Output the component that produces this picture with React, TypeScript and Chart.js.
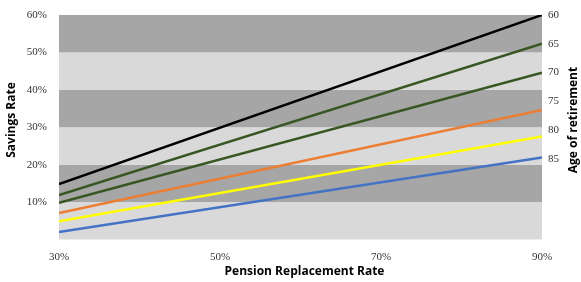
import React, { useEffect, useRef } from "react";
import { Chart, registerables } from "chart.js";

Chart.register(...registerables);

const replacementRates = [30, 90];
const retirementAgeTicks = [60, 65, 70, 75, 80, 85];
const age60 = [14.8, 60];
const age65 = [11.9, 52.3];
const age70 = [9.8, 44.6];
const age75 = [7.1, 34.6];
const age80 = [4.9, 27.5];
const age85 = [2.0, 21.9];

const seriesList = [
  { label: "60", values: age60, color: "#000000" },
  { label: "65", values: age65, color: "#375623" },
  { label: "70", values: age70, color: "#375623" },
  { label: "75", values: age75, color: "#ED7D31" },
  { label: "80", values: age80, color: "#FFFF00" },
  { label: "85", values: age85, color: "#4472C4" },
];

const bandPlugin = {
  id: "bands",
  beforeDatasetsDraw(chart: any) {
    const { ctx, chartArea, scales } = chart;
    const y = scales.y;
    ctx.save();
    for (let v = 0; v < 60; v += 10) {
      const top = y.getPixelForValue(v + 10);
      const bottom = y.getPixelForValue(v);
      ctx.fillStyle = (v / 10) % 2 === 1 ? "#a6a6a6" : "#d9d9d9";
      ctx.fillRect(chartArea.left, top, chartArea.right - chartArea.left, bottom - top);
    }
    ctx.restore();
  },
};

const titlePlugin = {
  id: "titles",
  afterDraw(chart: any) {
    const { ctx } = chart;
    ctx.save();
    ctx.fillStyle = "#000000";
    ctx.font = "bold 12px 'Open Sans'";
    ctx.textAlign = "center";
    ctx.textBaseline = "middle";
    ctx.save();
    ctx.translate(12, 120);
    ctx.rotate(-Math.PI / 2);
    ctx.fillText("Savings Rate", 0, 0);
    ctx.restore();
    ctx.save();
    ctx.translate(574, 120);
    ctx.rotate(-Math.PI / 2);
    ctx.fillText("Age of retirement", 0, 0);
    ctx.restore();
    const ca = chart.chartArea;
    ctx.fillText("Pension Replacement Rate", (ca.left + ca.right) / 2 + 4, 272);
    ctx.restore();
  },
};

const noPad = (s: any) => {
  s.paddingTop = 0;
  s.paddingBottom = 0;
  s.paddingLeft = 0;
  s.paddingRight = 0;
};

export default function App() {
  const ref = useRef<HTMLCanvasElement>(null);
  useEffect(() => {
    if (!ref.current) return;
    const tickFont = { family: "'Liberation Serif'", size: 11 };
    const chart = new Chart(ref.current, {
      type: "line",
      data: {
        datasets: seriesList.map((s) => ({
          label: s.label,
          data: replacementRates.map((x, i) => ({ x, y: s.values[i] })),
          borderColor: s.color,
          backgroundColor: s.color,
          borderWidth: 2.5,
          pointRadius: 0,
          tension: 0,
          fill: false,
          yAxisID: "y",
        })),
      },
      options: {
        responsive: false,
        animation: false,
        layout: { padding: { top: 15, left: 0, right: 0, bottom: 0 } },
        plugins: { legend: { display: false }, tooltip: { enabled: false } },
        scales: {
          x: {
            type: "linear",
            min: 30,
            max: 90,
            grid: { display: false, drawTicks: false },
            border: { display: false },
            ticks: {
              stepSize: 20,
              padding: 11,
              color: "#333333",
              font: tickFont,
              callback: (v: any) => v + "%",
            },
            afterFit: (s: any) => {
              s.height = 42.5;
              noPad(s);
            },
          },
          y: {
            type: "linear",
            position: "left",
            min: 0,
            max: 60,
            grid: { display: false, drawTicks: false },
            border: { display: false },
            ticks: {
              stepSize: 10,
              padding: 12,
              color: "#333333",
              font: tickFont,
              callback: (v: any) => (v === 0 ? "" : v + "%"),
            },
            afterFit: (s: any) => {
              s.width = 59;
              noPad(s);
            },
          },
          y2: {
            type: "linear",
            position: "right",
            reverse: true,
            min: 60,
            max: 99,
            grid: { display: false, drawTicks: false },
            border: { display: false },
            afterBuildTicks: (s: any) => {
              s.ticks = retirementAgeTicks.map((v) => ({ value: v }));
            },
            ticks: {
              padding: 6,
              color: "#333333",
              font: tickFont,
              callback: (v: any) => String(v),
            },
            afterFit: (s: any) => {
              s.width = 39;
              noPad(s);
            },
          },
        },
      },
      plugins: [bandPlugin, titlePlugin],
    });
    return () => chart.destroy();
  }, []);
  return (
    <div style={{ position: "absolute", left: 0, top: 0, width: 581, height: 282, background: "#fff" }}>
      <canvas ref={ref} width={581} height={282} />
    </div>
  );
}
